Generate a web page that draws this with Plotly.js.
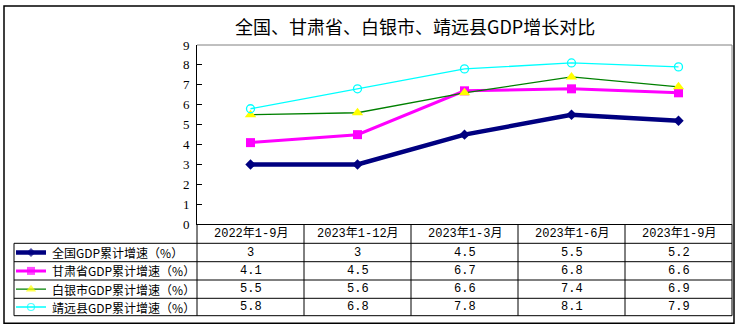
<!DOCTYPE html>
<html><head><meta charset="utf-8">
<script src="https://cdn.plot.ly/plotly-3.0.1.min.js"></script>
<style>html,body{margin:0;padding:0;background:#fff}#chart{width:740px;height:331px}</style>
</head><body><div id="chart"></div>
<script>
// ---- data ----
const categories = ["2022年1-9月", "2023年1-12月", "2023年1-3月", "2023年1-6月", "2023年1-9月"];
const seriesNames = ["全国GDP累计增速（%）", "甘肃省GDP累计增速（%）", "白银市GDP累计增速（%）", "靖远县GDP累计增速（%）"];
const national = [3, 3, 4.5, 5.5, 5.2];
const gansu = [4.1, 4.5, 6.7, 6.8, 6.6];
const baiyin = [5.5, 5.6, 6.6, 7.4, 6.9];
const jingyuan = [5.8, 6.8, 7.8, 8.1, 7.9];
const yTicks = [0, 1, 2, 3, 4, 5, 6, 7, 8, 9];
const chartTitle = "全国、甘肃省、白银市、靖远县GDP增长对比";

// ---- styles / geometry ----
const W = 740, H = 331;
const px = x => x / W;
const py = y => 1 - y / H;
const plotL = 197, plotR = 732, plotT = 45, plotB = 224.3;
const tabL = 14, headB = 243.3, tabB = 315.7;
const rowLines = [243.3, 261.7, 280, 298.3, 315.7];
const rowCenters = [252.5, 270.9, 289.2, 307];
const colW = (plotR - plotL) / categories.length;

const allSeries = [national, gansu, baiyin, jingyuan];
const styles = [
  {color: '#000080', width: 4.5, symbol: 'diamond', size: 8, mcolor: '#000080', lsize: 7},
  {color: '#FF00FF', width: 3, symbol: 'square', size: 9, mcolor: '#FF00FF', lsize: 8},
  {color: '#008000', width: 1.3, symbol: 'triangle-up', size: 10, mcolor: '#FFFF00', lsize: 9},
  {color: '#00FFFF', width: 1.3, symbol: 'circle-open', size: 8, mcolor: '#00FFFF', lsize: 7}
];
const monoFont = "Liberation Mono, Noto Sans CJK SC, sans-serif";
const cjkFont = "Noto Sans CJK SC, sans-serif";

const traces = [];
allSeries.forEach((vals, i) => {
  const s = styles[i];
  traces.push({
    type: 'scatter', mode: 'lines+markers', name: seriesNames[i],
    x: categories, y: vals, xaxis: 'x', yaxis: 'y',
    line: {color: s.color, width: s.width},
    marker: {symbol: s.symbol, size: s.size, color: s.mcolor,
             line: {width: s.symbol === 'circle-open' ? 1.3 : 0, color: s.mcolor}},
    cliponaxis: false, showlegend: false, hoverinfo: 'skip'
  });
});
// legend samples in the table's first column (axis x2/y2 in pixel units)
allSeries.forEach((vals, i) => {
  const s = styles[i];
  const yc = rowCenters[i];
  traces.push({
    type: 'scatter', mode: 'lines+markers',
    x: [16, 31, 46], y: [yc, yc, yc], xaxis: 'x2', yaxis: 'y2',
    line: {color: s.color, width: s.width},
    marker: {symbol: s.symbol, size: [0, s.lsize, 0], color: s.mcolor,
             line: {width: s.symbol === 'circle-open' ? 1.2 : 0, color: s.mcolor}},
    cliponaxis: false, showlegend: false, hoverinfo: 'skip'
  });
});

const shapes = [];
const line = (x0, y0, x1, y1, color, width) => shapes.push({
  type: 'line', xref: 'paper', yref: 'paper',
  x0: px(x0), y0: py(y0), x1: px(x1), y1: py(y1),
  line: {color: color || '#000', width: width || 1}, layer: 'above'
});
// outer frame
shapes.push({type: 'rect', xref: 'paper', yref: 'paper',
  x0: px(4), x1: px(734), y0: py(323.3), y1: py(6),
  line: {color: '#000', width: 1.5}});
// plot area gray border top/right
line(plotL, plotT, plotR, plotT, '#808080', 1);
line(plotR, plotT, plotR, plotB, '#808080', 1);
// table lines
rowLines.forEach(y => line(tabL, y, plotR, y));
line(tabL, headB, tabL, tabB);
for (let c = 0; c <= categories.length; c++) {
  const x = plotL + c * colW;
  line(x, plotB, x, tabB);
}

const annotations = [];
annotations.push({text: chartTitle, xref: 'paper', yref: 'paper', x: px(415), y: py(26),
  showarrow: false, xanchor: 'center', yanchor: 'middle',
  font: {family: cjkFont, size: 18, color: '#000'}});
categories.forEach((c, i) => {
  annotations.push({text: c, xref: 'x', yref: 'paper', x: i, y: py(233.8),
    showarrow: false, xanchor: 'center', yanchor: 'middle',
    font: {family: monoFont, size: 12, color: '#000'}});
});
allSeries.forEach((vals, r) => {
  annotations.push({text: seriesNames[r], xref: 'paper', yref: 'paper', x: px(50), y: py(rowCenters[r]),
    showarrow: false, xanchor: 'left', yanchor: 'middle',
    font: {family: cjkFont, size: 12, color: '#000'}});
  vals.forEach((v, i) => {
    annotations.push({text: String(v), xref: 'x', yref: 'paper', x: i, y: py(rowCenters[r]),
      showarrow: false, xanchor: 'center', yanchor: 'middle',
      font: {family: monoFont, size: 12, color: '#000'}});
  });
});

const layout = {
  width: W, height: H, margin: {l: 0, r: 0, t: 0, b: 0},
  paper_bgcolor: '#fff', plot_bgcolor: '#fff', showlegend: false,
  xaxis: {domain: [px(plotL), px(plotR)], type: 'category', range: [-0.5, categories.length - 0.5],
    showticklabels: false, ticks: '', showgrid: false, zeroline: false,
    showline: true, linecolor: '#000', linewidth: 1, fixedrange: true},
  yaxis: {domain: [py(plotB), py(plotT)], range: [0, 9], tickvals: yTicks, ticktext: yTicks.map(String),
    ticks: 'inside', ticklen: 5, tickcolor: '#000', tickwidth: 1,
    showgrid: false, zeroline: false, showline: true, linecolor: '#000', linewidth: 1,
    ticklabelstandoff: 4,
    tickfont: {family: "Liberation Serif, serif", size: 13, color: '#000'}, fixedrange: true},
  xaxis2: {domain: [px(tabL), px(plotL)], range: [tabL, plotL], visible: false, fixedrange: true},
  yaxis2: {domain: [py(tabB), py(headB)], range: [tabB, headB], visible: false, fixedrange: true},
  shapes: shapes, annotations: annotations
};

Plotly.newPlot('chart', traces, layout, {staticPlot: true, displayModeBar: false});
</script></body></html>
